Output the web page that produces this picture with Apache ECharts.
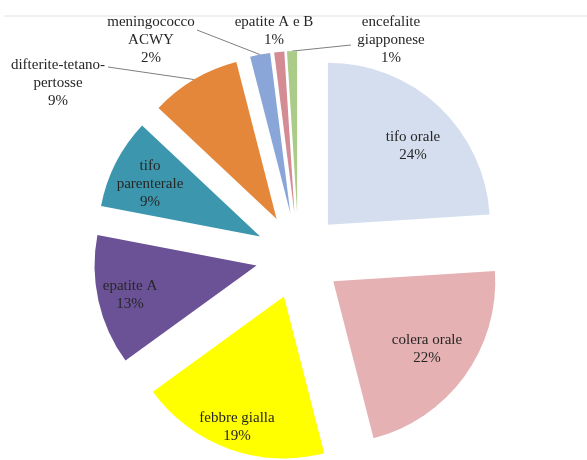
<!DOCTYPE html>
<html>
<head>
<meta charset="utf-8">
<script src="https://cdn.jsdelivr.net/npm/echarts@6/dist/echarts.min.js"></script>
<style>
  html, body { margin: 0; padding: 0; background: #ffffff; }
  #chart { width: 587px; height: 460px; }
</style>
</head>
<body>
<div id="chart"></div>
<script>
// Travel vaccines, share of doses administered
const categories = [
  'tifo orale', 'colera orale', 'febbre gialla', 'epatite A', 'tifo parenterale',
  'difterite-tetano-pertosse', 'meningococco ACWY', 'epatite A e B', 'encefalite giapponese'
];
const shares = [24, 22, 19, 13, 9, 9, 2, 1, 1];

// How each category name is broken over lines in its label
const labelText = [
  ['tifo orale'], ['colera orale'], ['febbre gialla'], ['epatite A'], ['tifo', 'parenterale'],
  ['difterite-tetano-', 'pertosse'], ['meningococco', 'ACWY'], ['epatite A e B'], ['encefalite', 'giapponese']
];

const sliceColors = [
  '#d5deee', '#e5b1b3', '#ffff00', '#6b5196', '#3c97ae',
  '#e4873a', '#8aa5d8', '#d48b94', '#abcc88'
];

// Label block centres and, for outside labels, where the leader line meets the text
const labelAnchors = [[413, 146], [427, 349], [237, 427], [130, 295], [150, 184], [58, 83], [151, 40], [274, 31], [391, 40]];
const leaderEnds = [null, null, null, null, null, [108, 67], [197, 30], null, [351, 45]];

const PIE_CENTER = [298.5, 256];
const PIE_RADIUS = 162;
const EXPLODE = 43;

const chart = echarts.init(document.getElementById('chart'), null, { renderer: 'canvas' });

chart.setOption({
  animation: false,
  backgroundColor: '#ffffff',
  graphic: [{
    type: 'line',
    shape: { x1: 4, y1: 16, x2: 587, y2: 16 },
    style: { stroke: '#e4e4e4', lineWidth: 1 },
    silent: true
  }],
  series: [
    // exploded slices
    {
      type: 'pie',
      center: PIE_CENTER,
      radius: [0, PIE_RADIUS],
      startAngle: 90,
      clockwise: true,
      selectedMode: 'multiple',
      selectedOffset: EXPLODE,
      itemStyle: { borderWidth: 0 },
      emphasis: { disabled: true },
      select: { itemStyle: { borderWidth: 0 } },
      label: { show: false },
      labelLine: { show: false },
      data: categories.map((name, i) => ({
        name: name,
        value: shares[i],
        selected: true,
        itemStyle: { color: sliceColors[i] }
      }))
    },
    // label carrier: same angles, outer edge at the exploded arc, no fill
    {
      type: 'pie',
      silent: true,
      center: PIE_CENTER,
      radius: [0, PIE_RADIUS + EXPLODE],
      startAngle: 90,
      clockwise: true,
      avoidLabelOverlap: false,
      itemStyle: { color: 'rgba(0,0,0,0)', borderWidth: 0 },
      emphasis: { disabled: true },
      label: {
        show: true,
        position: 'outside',
        fontFamily: '"Liberation Serif", "DejaVu Serif", serif',
        fontSize: 15,
        lineHeight: 18,
        color: '#262626',
        align: 'center',
        formatter: function (p) {
          return labelText[p.dataIndex].join('\n') + '\n' + Math.round(p.percent) + '%';
        }
      },
      labelLine: {
        length: 8,
        length2: 8,
        lineStyle: { color: '#7f7f7f', width: 1 }
      },
      labelLayout: function (p) {
        const i = p.dataIndex;
        const out = {
          x: labelAnchors[i][0],
          y: labelAnchors[i][1],
          align: 'center',
          verticalAlign: 'middle'
        };
        if (leaderEnds[i] && p.labelLinePoints) {
          out.labelLinePoints = [p.labelLinePoints[0], leaderEnds[i]];
        }
        return out;
      },
      data: categories.map((name, i) => ({
        name: name,
        value: shares[i],
        labelLine: { show: leaderEnds[i] !== null }
      }))
    }
  ]
});
</script>
</body>
</html>
